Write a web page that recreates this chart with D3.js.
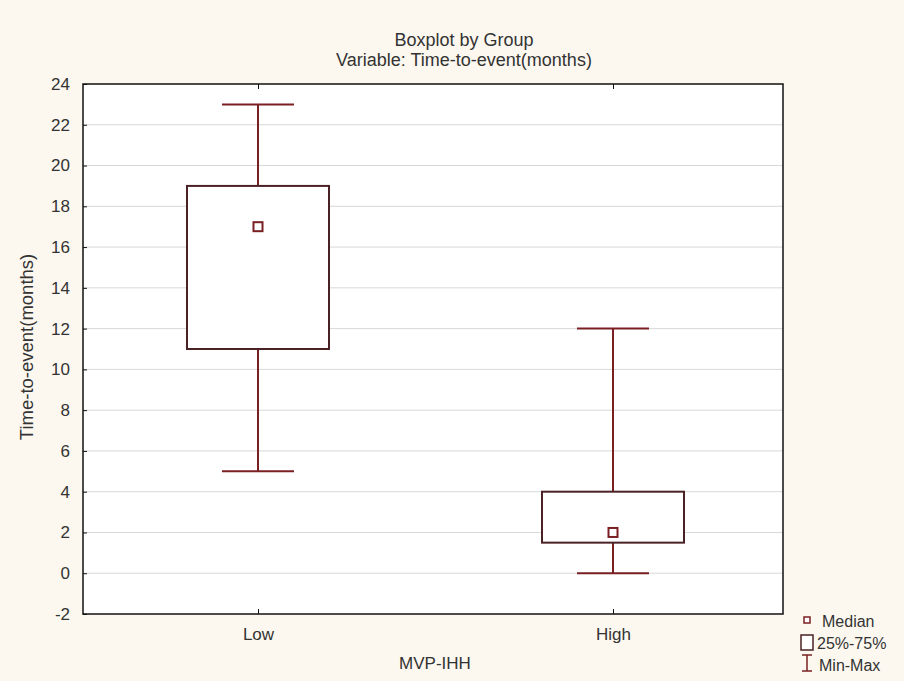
<!DOCTYPE html>
<html><head><meta charset="utf-8">
<script src="https://cdn.jsdelivr.net/npm/d3@7"></script>
<style>
html,body{margin:0;padding:0;background:#fcf8ef;}
text{font-family:"Liberation Sans",Arial,sans-serif;fill:#333;}
</style></head>
<body>
<svg id="chart" width="904" height="681"></svg>
<script>
const categories = ["Low", "High"];
const minValues = [5, 0];
const q1Values = [11, 1.5];
const medianValues = [17, 2];
const q3Values = [19, 4];
const maxValues = [23, 12];
const yTicks = [-2, 0, 2, 4, 6, 8, 10, 12, 14, 16, 18, 20, 22, 24];
const title1 = "Boxplot by Group";
const title2 = "Variable: Time-to-event(months)";
const xTitle = "MVP-IHH";
const yTitle = "Time-to-event(months)";
const legendLabels = ["Median", "25%-75%", "Min-Max"];

const svg = d3.select("#chart");
const W = 904, H = 681;
const m = {left: 83, right: 121, top: 84, bottom: 67};
const pw = W - m.left - m.right, ph = H - m.top - m.bottom;
const FONT = "Liberation Sans, Arial, sans-serif";

svg.append("rect").attr("width", W).attr("height", H).attr("fill", "#fcf8ef");

const x = d3.scalePoint().domain(categories).range([m.left + 175, m.left + pw - 170]).padding(0);
const y = d3.scaleLinear().domain([-2, 24]).range([m.top + ph, m.top]);

const g = svg.append("g");
g.append("rect").attr("x", m.left).attr("y", m.top).attr("width", pw).attr("height", ph).attr("fill", "#fff");

g.selectAll("line.grid").data(yTicks.filter(t => t > -2 && t < 24)).join("line")
  .attr("x1", m.left).attr("x2", m.left + pw)
  .attr("y1", d => y(d)).attr("y2", d => y(d))
  .attr("stroke", "#d8d8d8").attr("stroke-width", 1);

const boxColor = "#7a1f22";
const boxW = 142, capW = 72, medS = 9;
const data = categories.map((c, i) => ({c, min: minValues[i], q1: q1Values[i], med: medianValues[i], q3: q3Values[i], max: maxValues[i]}));

const bx = g.selectAll("g.box").data(data).join("g");
bx.append("line").attr("x1", d => x(d.c)).attr("x2", d => x(d.c))
  .attr("y1", d => y(d.max)).attr("y2", d => y(d.q3)).attr("stroke", boxColor).attr("stroke-width", 2);
bx.append("line").attr("x1", d => x(d.c)).attr("x2", d => x(d.c))
  .attr("y1", d => y(d.q1)).attr("y2", d => y(d.min)).attr("stroke", boxColor).attr("stroke-width", 2);
bx.append("line").attr("x1", d => x(d.c) - capW/2).attr("x2", d => x(d.c) + capW/2)
  .attr("y1", d => y(d.max)).attr("y2", d => y(d.max)).attr("stroke", boxColor).attr("stroke-width", 2);
bx.append("line").attr("x1", d => x(d.c) - capW/2).attr("x2", d => x(d.c) + capW/2)
  .attr("y1", d => y(d.min)).attr("y2", d => y(d.min)).attr("stroke", boxColor).attr("stroke-width", 2);
bx.append("rect").attr("x", d => x(d.c) - boxW/2).attr("width", boxW)
  .attr("y", d => y(d.q3)).attr("height", d => y(d.q1) - y(d.q3))
  .attr("fill", "#fff").attr("stroke", "#4a2226").attr("stroke-width", 2);
bx.append("rect").attr("x", d => x(d.c) - medS/2).attr("y", d => y(d.med) - medS/2)
  .attr("width", medS).attr("height", medS).attr("fill", "#fff").attr("stroke", boxColor).attr("stroke-width", 2);

g.append("rect").attr("x", m.left).attr("y", m.top).attr("width", pw).attr("height", ph)
  .attr("fill", "none").attr("stroke", "#111").attr("stroke-width", 1.5);

const yAxis = d3.axisLeft(y).tickValues(yTicks).tickSize(-4).tickPadding(13).tickFormat(d => String(d));
const ya = svg.append("g").attr("transform", `translate(${m.left},0)`).call(yAxis);
ya.select(".domain").remove();
ya.selectAll("line").attr("stroke", "#111");
ya.selectAll("text").attr("font-size", 17).attr("fill", "#333").attr("font-family", FONT);

const xAxis = d3.axisBottom(x).tickSize(-5).tickPadding(14);
const xa = svg.append("g").attr("transform", `translate(0,${m.top + ph})`).call(xAxis);
xa.select(".domain").remove();
xa.selectAll("line").attr("stroke", "#111");
xa.selectAll("text").attr("font-size", 17).attr("fill", "#333").attr("font-family", FONT);

const xTop = d3.axisTop(x).tickSize(-5).tickFormat("");
const xt = svg.append("g").attr("transform", `translate(0,${m.top})`).call(xTop);
xt.select(".domain").remove();
xt.selectAll("line").attr("stroke", "#111");

svg.append("text").attr("x", 464).attr("y", 46).attr("text-anchor", "middle").attr("font-size", 18).text(title1);
svg.append("text").attr("x", 464).attr("y", 66).attr("text-anchor", "middle").attr("font-size", 18).text(title2);
svg.append("text").attr("x", 435).attr("y", 669).attr("text-anchor", "middle").attr("font-size", 17).text(xTitle);
svg.append("text").attr("transform", `translate(33,347) rotate(-90)`).attr("text-anchor", "middle").attr("font-size", 18.5).text(yTitle);

const lg = svg.append("g");
lg.append("rect").attr("x", 804).attr("y", 617).attr("width", 6).attr("height", 6).attr("fill", "#fff").attr("stroke", boxColor).attr("stroke-width", 1.5);
lg.append("rect").attr("x", 801).attr("y", 635).attr("width", 12).attr("height", 15).attr("fill", "#fff").attr("stroke", "#4a2226").attr("stroke-width", 1.5);
lg.append("line").attr("x1", 807).attr("x2", 807).attr("y1", 655).attr("y2", 671).attr("stroke", boxColor).attr("stroke-width", 1.5);
lg.append("line").attr("x1", 802).attr("x2", 812).attr("y1", 655).attr("y2", 655).attr("stroke", boxColor).attr("stroke-width", 1.5);
lg.append("line").attr("x1", 802).attr("x2", 812).attr("y1", 671).attr("y2", 671).attr("stroke", boxColor).attr("stroke-width", 1.5);
const ly = [627, 649, 671], lx = [822, 817, 819];
legendLabels.forEach((t, i) => {
  lg.append("text").attr("x", lx[i]).attr("y", ly[i]).attr("font-size", 16).text(t);
});
</script>
</body></html>
